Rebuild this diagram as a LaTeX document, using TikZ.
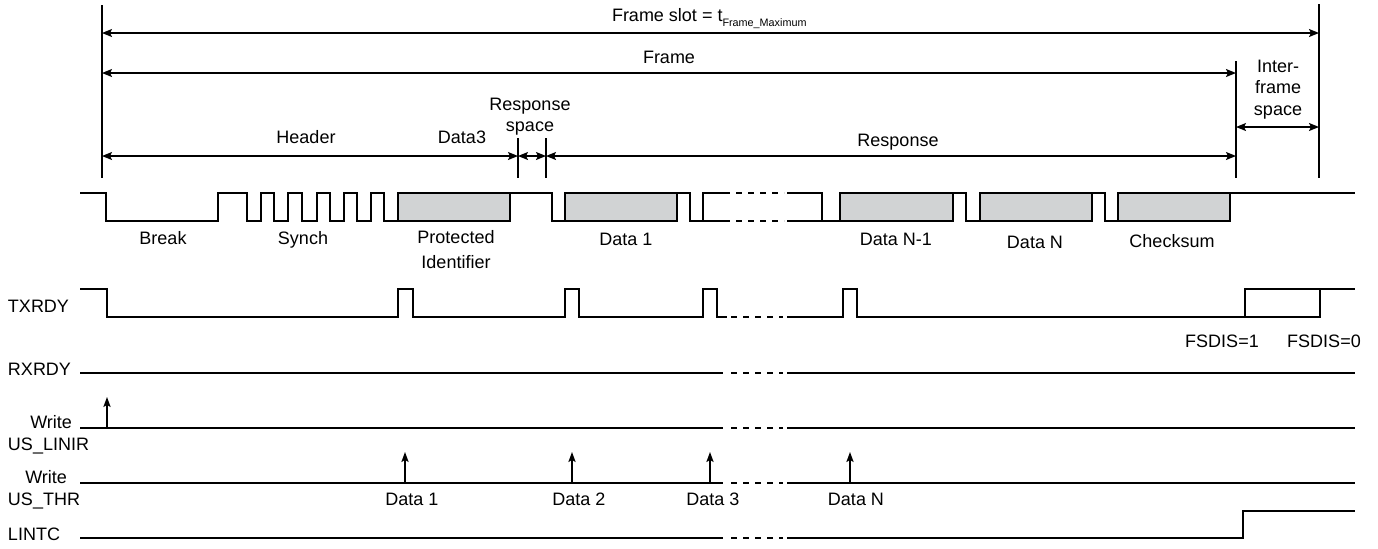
\documentclass[tikz,border=0pt]{standalone}
\usepackage{fontspec}
\setmainfont{Liberation Sans}
\usetikzlibrary{arrows.meta}
\definecolor{boxgray}{RGB}{209,211,212}
\begin{document}
\begin{tikzpicture}[x=0.5pt,y=-0.5pt,
  every node/.style={font=\fontsize{9pt}{10.75pt}\selectfont, inner sep=0pt, outer sep=0pt},
  lbl/.style={anchor=base},
  sig/.style={line width=1.1pt, line join=miter},
  gapline/.style={line width=1.1pt, dash pattern=on 3pt off 3pt},
  databox/.style={sig, draw, fill=boxgray},
  thinline/.style={line width=0.7pt},
  dim/.style={thinline, {Stealth[length=5pt,width=4pt,inset=1pt]}-{Stealth[length=5pt,width=4pt,inset=1pt]}},
  wr/.style={thinline, -{Stealth[length=5pt,width=3.6pt,inset=1pt]}}]
\useasboundingbox (0,0) rectangle (1378,548);

% ---------- vertical reference lines ----------
\coordinate (vl-t) at (102,5);    \coordinate (vl-b) at (102,178);
\coordinate (vr-t) at (1319,4);   \coordinate (vr-b) at (1319,178);
\coordinate (vf-t) at (1236,61);  \coordinate (vf-b) at (1236,178);
\coordinate (vs1-t) at (518,138); \coordinate (vs1-b) at (518,178);
\coordinate (vs2-t) at (546,138); \coordinate (vs2-b) at (546,178);
\draw[thinline] (vl-t) -- (vl-b);
\draw[thinline] (vr-t) -- (vr-b);
\draw[thinline] (vf-t) -- (vf-b);
\draw[thinline] (vs1-t) -- (vs1-b);
\draw[thinline] (vs2-t) -- (vs2-b);

% ---------- dimension arrows ----------
\coordinate (fs-l) at (102,33);  \coordinate (fs-r) at (1319,33);
\coordinate (fr-l) at (102,73);  \coordinate (fr-r) at (1236,73);
\coordinate (hd-l) at (102,156); \coordinate (hd-r) at (518,156);
\coordinate (rs-r) at (546,156); \coordinate (rp-r) at (1236,156);
\coordinate (if-l) at (1236,127); \coordinate (if-r) at (1319,127);
\draw[dim] (fs-l) -- (fs-r);
\draw[dim] (fr-l) -- (fr-r);
\draw[dim] (hd-l) -- (hd-r);
\draw[dim] (hd-r) -- (rs-r);
\draw[dim] (rs-r) -- (rp-r);
\draw[dim] (if-l) -- (if-r);

\node[anchor=base west] (fslot) at (612,21) {Frame slot = t\raisebox{-2.5pt}{\fontsize{5.4pt}{6pt}\selectfont Frame\_Maximum}};
\node[lbl] (frame) at (669,63) {Frame};
\node[lbl, align=center] (rspace) at (530,131.5) {Response\\space};
\node[lbl] (header) at (306,143) {Header};
\node[lbl] (data3) at (462,143) {Data3};
\node[lbl] (resp) at (898,146) {Response};
\node[lbl, align=center] (ifs) at (1278,115) {Inter-\\frame\\space};

% ---------- LIN bus waveform ----------
\draw[sig] (80,193) -- (106,193) -- (106,221) -- (218,221) -- (218,193) -- (247,193)
  -- (247,221) -- (261,221) -- (261,193) -- (274,193) -- (274,221) -- (288,221)
  -- (288,193) -- (302,193) -- (302,221) -- (317,221) -- (317,193) -- (330,193)
  -- (330,221) -- (344,221) -- (344,193) -- (357,193) -- (357,221) -- (371,221)
  -- (371,193) -- (384,193) -- (384,221) -- (398,221);
\draw[databox] (398,193) rectangle (510,221);
\draw[sig] (510,193) -- (552,193) -- (552,221) -- (565,221);
\draw[databox] (565,193) rectangle (677,221);
\draw[sig] (677,193) -- (690,193) -- (690,221) -- (730,221);
\draw[sig] (703,221) -- (703,193) -- (730,193);
\draw[gapline] (736,193) -- (784,193);
\draw[gapline] (736,221) -- (784,221);
\draw[sig] (787,193) -- (822,193) -- (822,221) -- (840,221);
\draw[sig] (787,221) -- (822,221);
\draw[databox] (840,193) rectangle (953,221);
\draw[sig] (953,193) -- (966,193) -- (966,221) -- (980,221);
\draw[databox] (980,193) rectangle (1092,221);
\draw[sig] (1092,193) -- (1105,193) -- (1105,221) -- (1118,221);
\draw[databox] (1118,193) rectangle (1230,221);
\draw[sig] (1230,193) -- (1355,193);

\node[lbl] (brk) at (163,244) {Break};
\node[lbl] (syn) at (303,244) {Synch};
\node[lbl, align=center] (pid) at (456,268) {Protected\\[1.75pt]Identifier};
\node[lbl] (d1) at (626,245) {Data 1};
\node[lbl] (dn1) at (896,245) {Data N-1};
\node[lbl] (dn) at (1035,248) {Data N};
\node[lbl] (chk) at (1172,247) {Checksum};

% ---------- TXRDY ----------
\node[anchor=base west] (txrdy) at (8,312) {TXRDY};
\draw[sig] (80,289) -- (107,289) -- (107,317) -- (398,317) -- (398,289) -- (413,289)
  -- (413,317) -- (565,317) -- (565,289) -- (579,289) -- (579,317) -- (703,317)
  -- (703,289) -- (717,289) -- (717,317) -- (727,317);
\draw[gapline] (731,317) -- (783,317);
\draw[sig] (787,317) -- (843,317) -- (843,289) -- (857,289) -- (857,317) -- (1320,317) -- (1320,289);
\draw[sig] (1245,317) -- (1245,289) -- (1355,289);
\node[lbl] (fs1) at (1222,347) {FSDIS=1};
\node[lbl] (fs0) at (1324,347) {FSDIS=0};

% ---------- RXRDY ----------
\node[anchor=base west] (rxrdy) at (8,375) {RXRDY};
\draw[sig] (80,373) -- (723,373);
\draw[gapline] (731,373) -- (783,373);
\draw[sig] (787,373) -- (1355,373);

% ---------- Write US_LINIR ----------
\node[anchor=base east] (wr1) at (72,428) {Write};
\node[anchor=base west] (linir) at (8,450) {US\_LINIR};
\draw[sig] (80,428) -- (723,428);
\draw[gapline] (731,428) -- (783,428);
\draw[sig] (787,428) -- (1355,428);
\draw[wr] (107,428) -- (107,397);

% ---------- Write US_THR ----------
\node[anchor=base east] (wr2) at (67,483) {Write};
\node[anchor=base west] (thr) at (8,505) {US\_THR};
\draw[sig] (80,483) -- (723,483);
\draw[gapline] (731,483) -- (783,483);
\draw[sig] (787,483) -- (1355,483);
\draw[wr] (405,483) -- (405,452);
\draw[wr] (572,483) -- (572,452);
\draw[wr] (710,483) -- (710,452);
\draw[wr] (850,483) -- (850,452);
\node[lbl] (w1) at (412,505) {Data 1};
\node[lbl] (w2) at (579,505) {Data 2};
\node[lbl] (w3) at (713,505) {Data 3};
\node[lbl] (wn) at (856,505) {Data N};

% ---------- LINTC ----------
\node[anchor=base west] (lintc) at (8,540) {LINTC};
\draw[sig] (80,538) -- (723,538);
\draw[gapline] (731,538) -- (783,538);
\draw[sig] (787,538) -- (1243,538) -- (1243,511) -- (1355,511);
\end{tikzpicture}
\end{document}
